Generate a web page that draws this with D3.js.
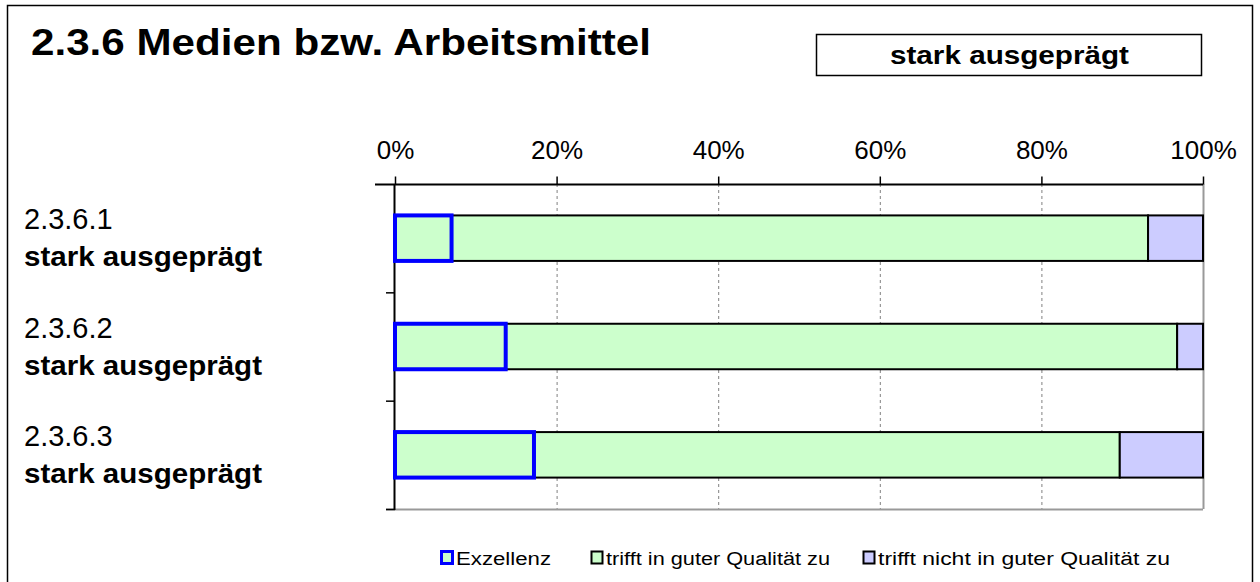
<html>
<head>
<style>
  body{margin:0;background:#fff}
  svg text{font-family:"Liberation Sans",Arial,sans-serif;fill:#000}
  .grid{stroke:#808080;stroke-width:1px;stroke-dasharray:3,3}
</style>
</head>
<body>
<div id="chart"></div>
<script src="https://d3js.org/d3.v7.min.js"></script>
<script>
(function () {

  var
    title     = '2.3.6 Medien bzw. Arbeitsmittel',
    boxLabel  = 'stark ausgeprägt',
    codes     = ['2.3.6.1', '2.3.6.2', '2.3.6.3'],
    levels    = ['stark ausgeprägt', 'stark ausgeprägt', 'stark ausgeprägt'],
    series    = ['Exzellenz', 'trifft in guter Qualität zu', 'trifft nicht in guter Qualität zu'],
    exzellenz = [0.07, 0.137, 0.172],
    gut       = [0.862, 0.831, 0.725],
    nichtGut  = [0.068, 0.032, 0.103],
    ticks     = [0, 0.2, 0.4, 0.6, 0.8, 1];

  var
    width  = 1260,
    height = 582,
    xScale = d3.scaleLinear().domain([0, 1]).range([395, 1203]),
    yScale = d3.scaleBand().domain(codes).range([184, 509]),
    barH   = yScale.bandwidth() * 0.42,
    fills  = ['#ccffcc', '#ccffcc', '#ccccff'],
    strokes = ['#0000ff', '#000', '#000'],
    svg    = d3.select('#chart').append('svg')
               .attr('width', width)
               .attr('height', height);

  // frame
  svg.append('rect')
    .attr('x', 7.5).attr('y', 5.5)
    .attr('width', 1245).attr('height', 590)
    .attr('fill', '#fff').attr('stroke', '#000').attr('stroke-width', 1.5);

  svg.append('text')
    .attr('x', 31).attr('y', 55)
    .attr('textLength', 620).attr('lengthAdjust', 'spacingAndGlyphs')
    .style('font-size', '37px').style('font-weight', 'bold')
    .text(title);

  svg.append('rect')
    .attr('x', 816.5).attr('y', 34.5)
    .attr('width', 385).attr('height', 41)
    .attr('fill', '#fff').attr('stroke', '#000').attr('stroke-width', 1.5);
  svg.append('text')
    .attr('x', 890).attr('y', 64)
    .attr('textLength', 239).attr('lengthAdjust', 'spacingAndGlyphs')
    .style('font-size', '26px').style('font-weight', 'bold')
    .text(boxLabel);

  // grid
  svg.append('g').selectAll('line')
    .data(ticks.slice(1, -1))
    .join('line')
    .attr('class', 'grid')
    .attr('x1', function (d) { return xScale(d) + 0.5; })
    .attr('x2', function (d) { return xScale(d) + 0.5; })
    .attr('y1', yScale.range()[0])
    .attr('y2', yScale.range()[1]);

  svg.append('line')
    .attr('x1', xScale(1) + 0.5).attr('x2', xScale(1) + 0.5)
    .attr('y1', yScale.range()[0]).attr('y2', yScale.range()[1])
    .attr('stroke', '#999').attr('stroke-width', 2);

  svg.append('line')
    .attr('x1', xScale(0) - 9).attr('x2', xScale(1))
    .attr('y1', yScale.range()[1] + 0.5).attr('y2', yScale.range()[1] + 0.5)
    .attr('stroke', '#999').attr('stroke-width', 2);

  // top axis
  var xAxis = svg.append('g')
    .attr('transform', 'translate(0,' + (yScale.range()[0] + 0.5) + ')')
    .call(d3.axisTop(xScale).tickValues(ticks).tickFormat(d3.format('.0%'))
      .tickSizeInner(8).tickSizeOuter(0).tickPadding(18));
  xAxis.select('.domain').attr('stroke', '#000').attr('stroke-width', 2)
    .attr('d', 'M' + (xScale(0) - 20) + ',0H' + xScale(1));
  xAxis.selectAll('.tick line').attr('stroke', '#000').attr('stroke-width', 1.5);
  xAxis.selectAll('.tick text')
    .attr('dy', 0)
    .style('font-size', '26px').style('font-family', '"Liberation Sans",Arial,sans-serif');

  // left axis
  var bounds = codes.map(function (c) { return yScale(c) + yScale.step(); });
  svg.append('line')
    .attr('x1', xScale(0) - 0.5).attr('x2', xScale(0) - 0.5)
    .attr('y1', yScale.range()[0]).attr('y2', yScale.range()[1] + 1)
    .attr('stroke', '#000').attr('stroke-width', 2);
  svg.append('g').selectAll('line')
    .data(bounds)
    .join('line')
    .attr('x1', xScale(0) - 9).attr('x2', xScale(0))
    .attr('y1', function (d) { return d + 0.5; })
    .attr('y2', function (d) { return d + 0.5; })
    .attr('stroke', '#000').attr('stroke-width', 1.5);

  // bars
  var rows = codes.map(function (c, i) {
    var vals = [exzellenz[i], gut[i], nichtGut[i]], acc = 0;
    return vals.map(function (v, k) {
      var seg = {code: c, k: k, x0: acc, x1: acc + v};
      acc += v;
      return seg;
    });
  });
  var segs = [].concat.apply([], rows);
  // Exzellenz last so the blue border sits on top
  segs.sort(function (a, b) { return (a.k === 0) - (b.k === 0); });

  svg.append('g').selectAll('rect')
    .data(segs)
    .join('rect')
    .attr('x', function (d) { return xScale(d.x0); })
    .attr('width', function (d) { return xScale(d.x1) - xScale(d.x0); })
    .attr('y', function (d) { return yScale(d.code) + (yScale.bandwidth() - barH) / 2; })
    .attr('height', barH)
    .attr('fill', function (d) { return fills[d.k]; })
    .attr('stroke', function (d) { return strokes[d.k]; })
    .attr('stroke-width', function (d) { return d.k === 0 ? 4 : 2; });

  // category labels
  var lab = svg.append('g').selectAll('g')
    .data(codes)
    .join('g')
    .attr('transform', function (d) { return 'translate(24,' + (yScale(d) + yScale.bandwidth() / 2) + ')'; });
  lab.append('text')
    .attr('y', -9)
    .style('font-size', '29px')
    .text(function (d) { return d; });
  lab.append('text')
    .attr('y', 28)
    .attr('textLength', 238).attr('lengthAdjust', 'spacingAndGlyphs')
    .style('font-size', '28px').style('font-weight', 'bold')
    .text(function (d, i) { return levels[i]; });

  // legend
  var legX = [440, 590, 862],
      legW = [95, 224, 292];
  var leg = svg.append('g').selectAll('g')
    .data(series)
    .join('g')
    .attr('transform', function (d, i) { return 'translate(' + legX[i] + ',558)'; });
  leg.append('rect')
    .attr('x', 1.5).attr('y', -6.5)
    .attr('width', 11).attr('height', 12)
    .attr('fill', function (d, i) { return fills[i]; })
    .attr('stroke', function (d, i) { return strokes[i]; })
    .attr('stroke-width', function (d, i) { return i === 0 ? 3 : 2; });
  leg.append('text')
    .attr('x', 16).attr('y', 7)
    .attr('textLength', function (d, i) { return legW[i]; })
    .attr('lengthAdjust', 'spacingAndGlyphs')
    .style('font-size', '18px')
    .text(function (d) { return d; });

})();
</script>
</body>
</html>
